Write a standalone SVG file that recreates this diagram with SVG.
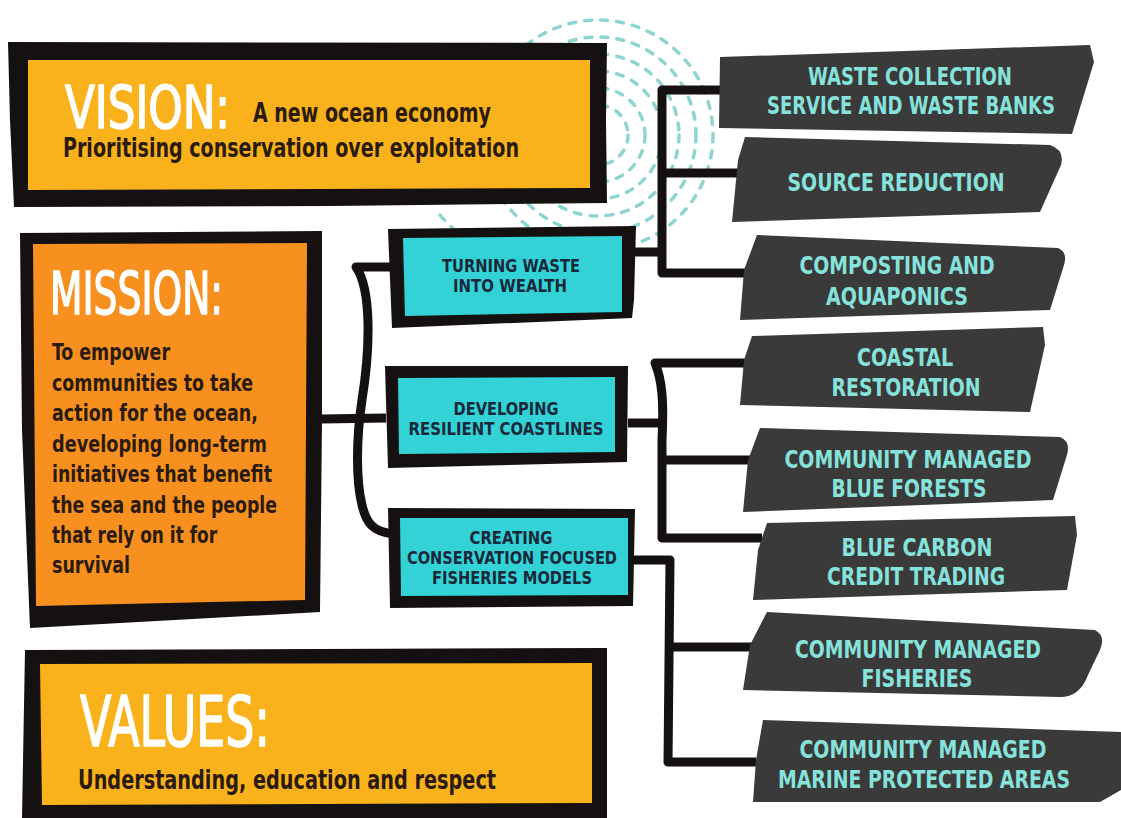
<svg xmlns="http://www.w3.org/2000/svg" width="1121" height="818" viewBox="0 0 1121 818">
<style>
.frame{fill:#141110}
.gold{fill:#F9B21B}
.orng{fill:#F7901E}
.cyan{fill:#33D2D6}
.dark{fill:#3B3A3A}
.conn{fill:none;stroke:#141110;stroke-width:9;stroke-linejoin:round;stroke-linecap:butt}
.ring{fill:none;stroke:#8ED5D1;stroke-width:3.5;stroke-dasharray:7 9;stroke-linecap:round}
.hand{font-family:"Liberation Sans Narrow","DejaVu Sans Condensed","Liberation Sans",sans-serif;fill:#FFFFFF;stroke:#FFFFFF;stroke-width:1.5;font-weight:normal}
.body{font-family:"Liberation Sans Narrow","DejaVu Sans Condensed","Liberation Sans",sans-serif;font-weight:bold;fill:#2A1B0E}
.cap{font-family:"Liberation Sans Narrow","DejaVu Sans Condensed","Liberation Sans",sans-serif;font-weight:bold;fill:#17283A;font-size:18px;text-anchor:middle}
.lbl{font-family:"Liberation Sans Narrow","DejaVu Sans Condensed","Liberation Sans",sans-serif;font-weight:bold;fill:#86E3DC;font-size:24px;text-anchor:middle}
</style>
<rect width="1121" height="818" fill="#FFFFFF"/>
<g id="spiral">
<circle class="ring" cx="598" cy="135" r="30"/>
<circle class="ring" cx="598" cy="135" r="47"/>
<circle class="ring" cx="598" cy="135" r="64"/>
<circle class="ring" cx="598" cy="135" r="81"/>
<circle class="ring" cx="598" cy="135" r="98"/>
<circle class="ring" cx="598" cy="135" r="115"/>
<path class="ring" d="M440,215 A160,140 0 0 0 598,270"/>
</g>
<g id="connectors">
<path class="conn" d="M322,419 L386,418"/>
<path class="conn" d="M392,267 L356,267 C372,290 370,350 362,400 C356,440 356,480 362,505 C366,522 372,532 394,534"/>
<path class="conn" d="M635,252 L662,252"/>
<path class="conn" d="M722,90 L662,90 L662,273 L745,273"/>
<path class="conn" d="M662,173 L740,173"/>
<path class="conn" d="M628,423 L660,423"/>
<path class="conn" d="M748,363 L655,363 C662,380 664,400 662,440 L662,538 L762,538"/>
<path class="conn" d="M662,460 L752,460"/>
<path class="conn" d="M633,560 L670,560 L668,762 L756,762"/>
<path class="conn" d="M668,647 L755,647"/>
</g>
<g id="vision">
<path class="frame" d="M8,42 L607,43 L606,120 L607,203 L330,206 L14,207 L10,120 Z"/>
<path class="gold" d="M28,60 L590,60 L590,188 L28,190 Z"/>
<text class="hand" x="65" y="128" font-size="58" textLength="165" lengthAdjust="spacingAndGlyphs">VISION:</text>
<text class="body" x="253" y="122" font-size="27" textLength="238" lengthAdjust="spacingAndGlyphs">A new ocean economy</text>
<text class="body" x="63" y="157" font-size="27" textLength="456" lengthAdjust="spacingAndGlyphs">Prioritising conservation over exploitation</text>
</g>
<g id="mission">
<path class="frame" d="M20,233 L322,231 L322,420 L320,612 L30,628 L22,430 Z"/>
<path class="orng" d="M33,244 L307,243 L305,600 L36,606 Z"/>
<text class="hand" x="50" y="314" font-size="58" textLength="173" lengthAdjust="spacingAndGlyphs">MISSION:</text>
<g class="body" font-size="23">
<text x="52" y="360" textLength="118" lengthAdjust="spacingAndGlyphs">To empower</text>
<text x="52" y="390.5" textLength="201" lengthAdjust="spacingAndGlyphs">communities to take</text>
<text x="52" y="421" textLength="206" lengthAdjust="spacingAndGlyphs">action for the ocean,</text>
<text x="52" y="451.5" textLength="215" lengthAdjust="spacingAndGlyphs">developing long-term</text>
<text x="52" y="482" textLength="220" lengthAdjust="spacingAndGlyphs">initiatives that benefit</text>
<text x="52" y="512.5" textLength="225" lengthAdjust="spacingAndGlyphs">the sea and the people</text>
<text x="52" y="543" textLength="165" lengthAdjust="spacingAndGlyphs">that rely on it for</text>
<text x="52" y="573" textLength="78" lengthAdjust="spacingAndGlyphs">survival</text>
</g>
</g>
<g id="values">
<path class="frame" d="M25,650 L607,648 L607,818 L22,818 Z"/>
<path class="gold" d="M40,664 L592,663 L592,803 L42,805 Z"/>
<text class="hand" x="80" y="746" font-size="70" textLength="190" lengthAdjust="spacingAndGlyphs">VALUES:</text>
<text class="body" x="78" y="789" font-size="27" textLength="418" lengthAdjust="spacingAndGlyphs">Understanding, education and respect</text>
</g>
<g id="turning-waste">
<path class="frame" d="M388,229 L636,226 L634,300 L632,318 L392,328 Z"/>
<path class="cyan" d="M403,238 L622,236 L622,312 L405,316 Z"/>
<text class="cap" x="511" y="272" textLength="138" lengthAdjust="spacingAndGlyphs">TURNING WASTE</text>
<text class="cap" x="510" y="292" textLength="114" lengthAdjust="spacingAndGlyphs">INTO WEALTH</text>
</g>
<g id="resilient-coastlines">
<path class="frame" d="M385,366 L628,366 L627,462 L388,468 Z"/>
<path class="cyan" d="M398,378 L615,377 L615,452 L399,454 Z"/>
<text class="cap" x="506" y="415" textLength="105" lengthAdjust="spacingAndGlyphs">DEVELOPING</text>
<text class="cap" x="506" y="435" textLength="195" lengthAdjust="spacingAndGlyphs">RESILIENT COASTLINES</text>
</g>
<g id="fisheries-models">
<path class="frame" d="M388,508 L635,509 L633,606 L390,608 Z"/>
<path class="cyan" d="M400,518 L628,518 L628,595 L401,596 Z"/>
<text class="cap" x="511" y="544" textLength="83" lengthAdjust="spacingAndGlyphs">CREATING</text>
<text class="cap" x="512" y="564" textLength="210" lengthAdjust="spacingAndGlyphs">CONSERVATION FOCUSED</text>
<text class="cap" x="512" y="584" textLength="160" lengthAdjust="spacingAndGlyphs">FISHERIES MODELS</text>
</g>
<g id="waste-collection">
<path class="dark" d="M720,57 L1090,45 L1094,62 L1072,134 L719,128 Z"/>
<text class="lbl" x="910" y="85" textLength="204" lengthAdjust="spacingAndGlyphs">WASTE COLLECTION</text>
<text class="lbl" x="911" y="114" textLength="288" lengthAdjust="spacingAndGlyphs">SERVICE AND WASTE BANKS</text>
</g>
<g id="source-reduction">
<path class="dark" d="M745,137 L1050,145 Q1065,150 1061,165 L1040,212 L732,222 L738,160 Z"/>
<text class="lbl" x="896" y="191" textLength="217" lengthAdjust="spacingAndGlyphs">SOURCE REDUCTION</text>
</g>
<g id="composting">
<path class="dark" d="M757,235 L1058,248 Q1068,252 1064,265 L1050,310 L740,320 L744,270 Z"/>
<text class="lbl" x="897" y="274" textLength="195" lengthAdjust="spacingAndGlyphs">COMPOSTING AND</text>
<text class="lbl" x="897" y="305" textLength="142" lengthAdjust="spacingAndGlyphs">AQUAPONICS</text>
</g>
<g id="coastal-restoration">
<path class="dark" d="M752,336 L1043,327 L1045,345 L1030,412 L740,405 L744,360 Z"/>
<text class="lbl" x="905" y="366" textLength="96" lengthAdjust="spacingAndGlyphs">COASTAL</text>
<text class="lbl" x="906" y="396" textLength="149" lengthAdjust="spacingAndGlyphs">RESTORATION</text>
</g>
<g id="blue-forests">
<path class="dark" d="M760,428 L1060,437 Q1072,442 1066,458 L1053,500 L743,512 L748,460 Z"/>
<text class="lbl" x="908" y="468" textLength="247" lengthAdjust="spacingAndGlyphs">COMMUNITY MANAGED</text>
<text class="lbl" x="909" y="497" textLength="155" lengthAdjust="spacingAndGlyphs">BLUE FORESTS</text>
</g>
<g id="blue-carbon">
<path class="dark" d="M767,523 L1075,516 L1077,535 L1067,590 L753,600 L758,550 Z"/>
<text class="lbl" x="917" y="556" textLength="151" lengthAdjust="spacingAndGlyphs">BLUE CARBON</text>
<text class="lbl" x="916" y="585" textLength="178" lengthAdjust="spacingAndGlyphs">CREDIT TRADING</text>
</g>
<g id="community-fisheries">
<path class="dark" d="M767,612 L1095,630 Q1106,636 1100,650 L1088,675 Q1080,697 1060,697 L743,690 L750,645 Z"/>
<text class="lbl" x="918" y="658" textLength="246" lengthAdjust="spacingAndGlyphs">COMMUNITY MANAGED</text>
<text class="lbl" x="917" y="687" textLength="111" lengthAdjust="spacingAndGlyphs">FISHERIES</text>
</g>
<g id="marine-protected-areas">
<path class="dark" d="M763,720 L1121,732 L1121,790 L1100,802 L753,802 L756,760 Z"/>
<text class="lbl" x="923" y="758" textLength="247" lengthAdjust="spacingAndGlyphs">COMMUNITY MANAGED</text>
<text class="lbl" x="924" y="788" textLength="292" lengthAdjust="spacingAndGlyphs">MARINE PROTECTED AREAS</text>
</g>
</svg>
